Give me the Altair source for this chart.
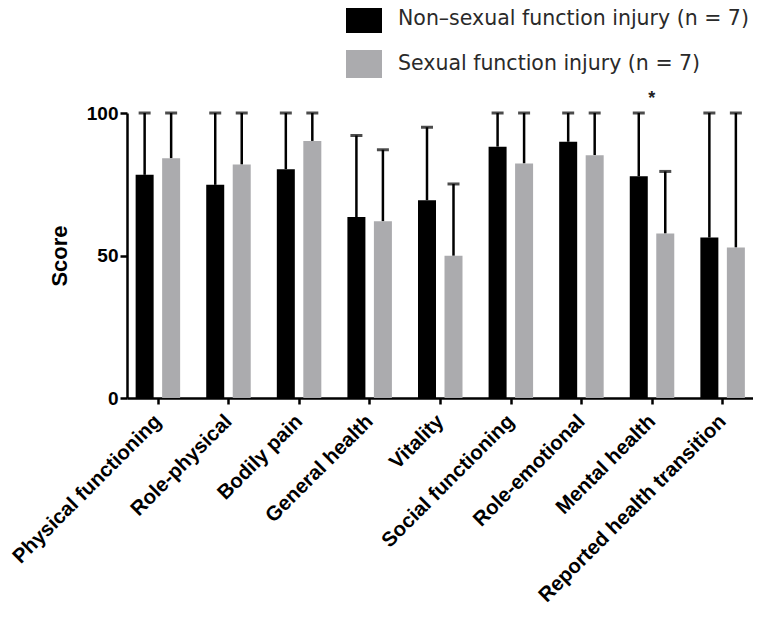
import altair as alt
import pandas as pd

categories = ["Physical functioning", "Role-physical", "Bodily pain", "General health",
              "Vitality", "Social functioning", "Role-emotional", "Mental health",
              "Reported health transition"]
groups = ["Non–sexual function injury (n = 7)", "Sexual function injury (n = 7)"]
non_mean = [78.3, 74.8, 80.3, 63.5, 69.4, 88.2, 89.9, 77.8, 56.3]
non_upper = [100, 100, 100, 92.1, 95.0, 100, 100, 100, 100]
sex_mean = [84.1, 81.9, 90.2, 62.0, 49.9, 82.3, 85.2, 57.7, 52.8]
sex_upper = [100, 100, 100, 87.1, 75.1, 100, 100, 79.5, 100]
sig_category = ["Mental health"]
sig_pos = [105]
sig_text = ["*"]

rows = []
for i, c in enumerate(categories):
    rows.append({"cat": c, "group": groups[0], "mean": non_mean[i], "upper": non_upper[i]})
    rows.append({"cat": c, "group": groups[1], "mean": sex_mean[i], "upper": sex_upper[i]})
df = pd.DataFrame(rows)
sig_df = pd.DataFrame({"cat": sig_category, "y": sig_pos, "t": sig_text})

FONT = "Liberation Sans"
xenc = alt.X("cat:N", sort=categories,
             scale=alt.Scale(type="point", padding=0.434),
             axis=alt.Axis(title=None, labelAngle=-45, labelAlign="right",
                           labelBaseline="middle", labelPadding=14, labelLimit=400))
yscale = alt.Scale(domain=[0, 100], nice=False)
yaxis = alt.Axis(title="Score", values=[0, 50, 100], titlePadding=15)
color = alt.Color("group:N", scale=alt.Scale(domain=groups, range=["#000000", "#ababae"]),
                  legend=alt.Legend(title=None, orient="none", legendX=219, legendY=-112,
                                    symbolType="M-1,-0.78H1V0.78H-1Z", symbolSize=1296,
                                    symbolStrokeWidth=0, labelFontSize=20.5, labelFont="DejaVu Sans",
                                    labelColor="#2a2a2a", labelLimit=500, labelOffset=16,
                                    rowPadding=12, padding=0))

base = alt.Chart(df)
offsets = {groups[0]: -13, groups[1]: 13.5}
layers = []
for g in groups:
    d = base.transform_filter(alt.datum.group == g)
    off = offsets[g]
    layers.append(d.mark_rule(color="black", strokeWidth=2.5, xOffset=off).encode(
        x=xenc, y=alt.Y("mean:Q", scale=yscale, axis=yaxis), y2="upper:Q"))
    layers.append(d.mark_tick(color="black", thickness=3, size=12, xOffset=off).encode(
        x=xenc, y=alt.Y("upper:Q", scale=yscale, axis=yaxis)))
    layers.append(d.mark_bar(size=18, xOffset=off).encode(
        x=xenc, y=alt.Y("mean:Q", scale=yscale, axis=yaxis), color=color))

sig = alt.Chart(sig_df).mark_text(fontSize=18, font=FONT, fontWeight="bold", color="#222222",
                                  baseline="middle").encode(
    x=xenc, y=alt.Y("y:Q", scale=yscale, axis=yaxis), text="t:N")
layers.append(sig)

chart = alt.layer(*layers).properties(
    width=626, height=285,
    autosize=alt.AutoSizeParams(type="none"),
    padding={"left": 119, "top": 105, "right": 0, "bottom": 216},
).configure_view(stroke=None).configure_axis(
    grid=False, domainColor="black", domainWidth=2.5, tickColor="black", tickWidth=2.5,
    tickSize=7, labelFont=FONT, labelFontWeight="bold", labelFontSize=19, labelColor="black",
    titleFont=FONT, titleFontWeight="bold", titleFontSize=22, titleColor="black",
).configure_axisX(tickSize=6, labelFontSize=20.5)

chart.save("out.html", embed_options={"renderer": "svg", "actions": False})
